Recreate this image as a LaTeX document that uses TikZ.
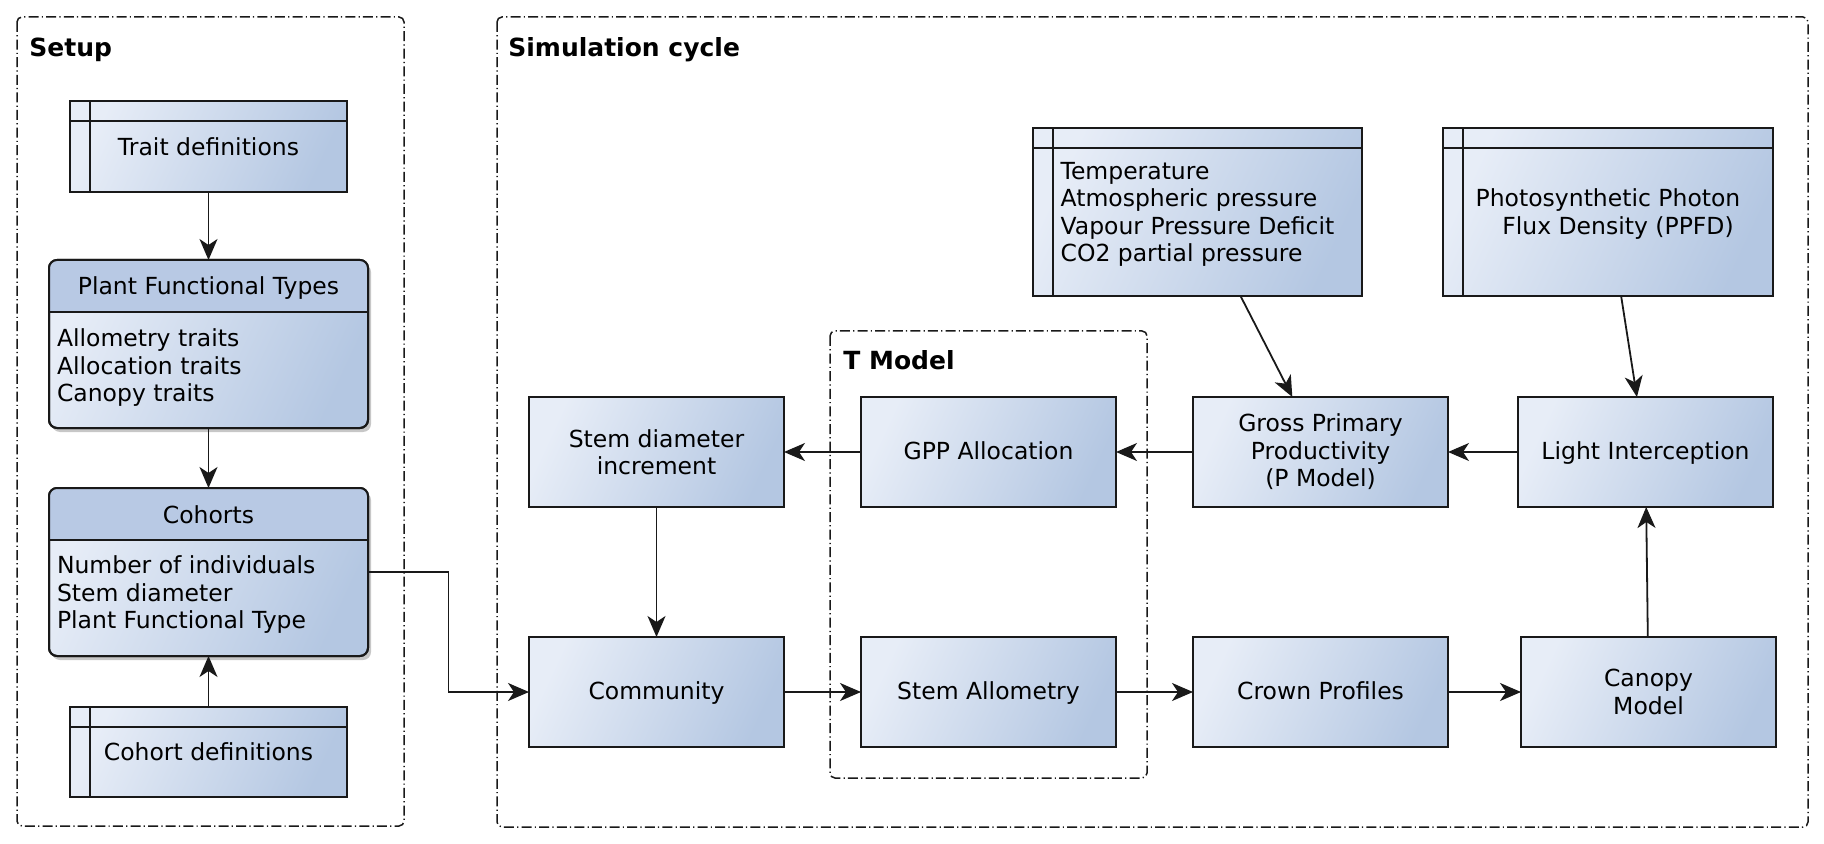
\documentclass[tikz,border=0pt]{standalone}
\usepackage{fontspec}
\setmainfont{DejaVu Sans}
\usetikzlibrary{arrows.meta,calc,shadows}
\definecolor{boxlight}{RGB}{231,237,247}
\definecolor{boxdark}{RGB}{180,199,226}
\definecolor{headcol}{RGB}{184,201,228}
\definecolor{linecol}{RGB}{25,25,25}
\newcommand\mybody{\fontsize{11.75pt}{13.75pt}\selectfont}
\newcommand\mytitle{\fontsize{12.5pt}{15pt}\selectfont\bfseries}
\tikzset{
  gradfill/.style={shading=axis, top color=boxlight, bottom color=boxdark, shading angle=65},
  proc/.style={draw=linecol, line width=1pt, gradfill, minimum width=127.5pt, minimum height=55pt,
    inner sep=0pt, outer sep=0pt, align=center},
  oneline/.style={text height=0.73em, text depth=0pt},
  store/.style={draw=linecol, line width=1pt, gradfill, inner sep=0pt, outer sep=0pt, align=center},
  classbox/.style={draw=linecol, line width=1pt, rounded corners=4pt, gradfill,
    minimum width=159.5pt, minimum height=84pt, inner sep=0pt, outer sep=0pt,
    drop shadow={shadow xshift=1.5pt, shadow yshift=-2pt, opacity=0.22, fill=black}},
  boxline/.style={draw=linecol, line width=1pt},
  frame/.style={draw=linecol, line width=0.75pt, rounded corners=2.5pt,
    dash pattern=on 5pt off 1.6pt on 0.6pt off 1.6pt},
  title/.style={anchor=base west, inner sep=0pt, font=\mytitle},
  txt/.style={inner sep=0pt, outer sep=0pt},
  arr/.style={draw=linecol, line width=0.9pt, -{Stealth[length=10.5pt, width=9pt, inset=3pt]}}
}
\begin{document}
\begin{tikzpicture}[x=0.5pt, y=-0.5pt, font=\mybody]
\useasboundingbox (0,0) rectangle (1824,844);
% group frames
\draw[frame] (17,17) rectangle (404,826);
\draw[frame] (497,17) rectangle (1808,827);
\draw[frame] (830,331) rectangle (1147,778);
\node[title] (tsetup) at (29,57) {Setup};
\node[title] (tsim) at (508,57) {Simulation cycle};
\node[title] (ttm) at (843,370) {T Model};

% data stores
\node[store, minimum width=138.5pt, minimum height=45.5pt] (trait) at (208.5,146.5) {Trait definitions};
\node[store, minimum width=138.5pt, minimum height=45pt] (cohortdef) at (208.5,752) {Cohort definitions};
\node[store, minimum width=164.5pt, minimum height=84pt, align=left] (env) at (1197.5,212)
  {\rule{0pt}{0pt}\\[-3pt]Temperature\\Atmospheric pressure\\Vapour Pressure Deficit\\CO2 partial pressure};
\node[store, minimum width=165pt, minimum height=84pt] (ppfd) at (1608,212)
  {\rule{0pt}{0pt}\\[-3pt]Photosynthetic Photon\\\hspace*{10pt}Flux Density (PPFD)};
\foreach \n in {trait,cohortdef,env,ppfd} {
  \draw[boxline] ([yshift=-10pt]\n.north west) -- ([yshift=-10pt]\n.north east);
  \draw[boxline] ([xshift=10pt]\n.north west) -- ([xshift=10pt]\n.south west);
}

% class boxes
\node[classbox] (pft) at (208.5,344) {};
\node[classbox] (coh) at (208.5,572) {};
\foreach \n in {pft,coh} {
  \fill[headcol, rounded corners=4pt] (\n.north west) rectangle ([yshift=-26pt]\n.north east);
  \fill[headcol] ([yshift=-12pt]\n.north west) rectangle ([yshift=-26pt]\n.north east);
  \draw[boxline] ([yshift=-26pt]\n.north west) -- ([yshift=-26pt]\n.north east);
  \draw[boxline, rounded corners=4pt] (\n.north west) rectangle (\n.south east);
}
\node[txt, anchor=base] (pfth) at (208.5,295) {Plant Functional Types};
\node[txt, anchor=north west, align=left] (pftb) at (57,329) {Allometry traits\\Allocation traits\\Canopy traits};
\node[txt, anchor=base] (cohh) at (208.5,523) {Cohorts};
\node[txt, anchor=north west, align=left] (cohb) at (57,556) {Number of individuals\\Stem diameter\\Plant Functional Type};

% process boxes
\node[proc] (sdi) at (656.5,452) {Stem diameter\\increment};
\node[proc, oneline] (gppa) at (988.5,452) {GPP Allocation};
\node[proc] (gpp) at (1320.5,452) {Gross Primary\\Productivity\\(P Model)};
\node[proc, oneline] (light) at (1645.5,452) {Light Interception};
\node[proc, oneline] (comm) at (656.5,692) {Community};
\node[proc, oneline] (stemallo) at (988.5,692) {Stem Allometry};
\node[proc, oneline] (crown) at (1320.5,692) {Crown Profiles};
\node[proc] (canopy) at (1648.5,692) {Canopy\\Model};

% connectors
\draw[arr] (trait.south) -- (pft.north);
\draw[arr] (pft.south) -- (coh.north);
\draw[arr] (cohortdef.north) -- (coh.south);
\draw[arr] (coh.east) -| ($(coh.east)!0.5!(comm.west)$) |- (comm.west);
\draw[arr] (gppa.west) -- (sdi.east);
\draw[arr] (sdi.south) -- (comm.north);
\draw[arr] (gpp.west) -- (gppa.east);
\draw[arr] (light.west) -- (gpp.east);
\draw[arr] (env) -- (gpp);
\draw[arr] (ppfd) -- (light);
\draw[arr] (comm.east) -- (stemallo.west);
\draw[arr] (stemallo.east) -- (crown.west);
\draw[arr] (crown.east) -- (canopy.west);
\draw[arr] (canopy) -- (light);
\end{tikzpicture}
\end{document}
